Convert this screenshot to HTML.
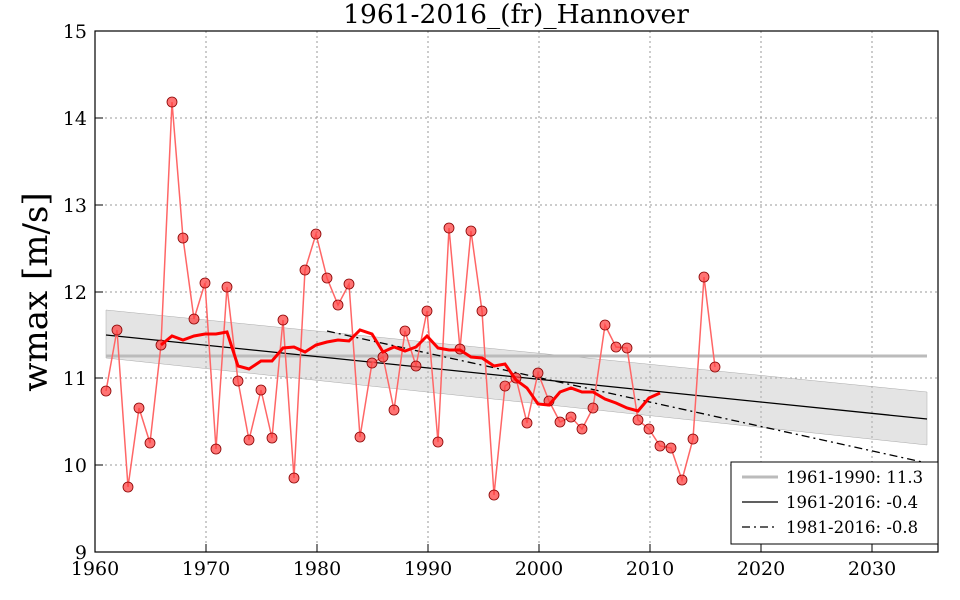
<!DOCTYPE html>
<html><head><meta charset="utf-8"><style>body{margin:0;background:#fff}svg{display:block}text{font-family:"DejaVu Serif","Liberation Serif",serif}</style></head><body>
<svg width="960" height="600" viewBox="0 0 960 600" xmlns="http://www.w3.org/2000/svg">
<rect width="960" height="600" fill="#fff"/>
<g stroke="#999" stroke-dasharray="2,3" stroke-width="1">
<line x1="206" y1="31" x2="206" y2="552"/><line x1="317" y1="31" x2="317" y2="552"/><line x1="428" y1="31" x2="428" y2="552"/><line x1="539" y1="31" x2="539" y2="552"/><line x1="650" y1="31" x2="650" y2="552"/><line x1="761" y1="31" x2="761" y2="552"/><line x1="872" y1="31" x2="872" y2="552"/>
<line x1="95" y1="118" x2="938" y2="118"/><line x1="95" y1="205" x2="938" y2="205"/><line x1="95" y1="292" x2="938" y2="292"/><line x1="95" y1="378" x2="938" y2="378"/><line x1="95" y1="465" x2="938" y2="465"/>
</g>
<polygon points="106,310 927,392 927,445 106,358" fill="#bbb" fill-opacity="0.4" stroke="#aaa" stroke-width="0.5"/>
<line x1="106" y1="356" x2="927" y2="356" stroke="#bbb" stroke-width="3"/>
<line x1="106" y1="335" x2="927" y2="419" stroke="#000" stroke-width="1.3"/>
<line x1="327" y1="331" x2="927" y2="463" stroke="#000" stroke-width="1.3" stroke-dasharray="8,4,2,4"/>
<polyline fill="none" stroke="#f66" stroke-width="1.5" points="106,391 117,330 128,487 139,408 150,443 161,345 172,102 183,238 194,319 205,283 216,449 227,287 238,381 249,440 261,390 272,438 283,320 294,478 305,270 316,234 327,278 338,305 349,284 360,437 372,363 383,357 394,410 405,331 416,366 427,311 438,442 449,228 460,349 471,231 482,311 494,495 505,386 516,378 527,423 538,373 549,401 560,422 571,417 582,429 593,408 605,325 616,347 627,348 638,420 649,429 660,446 671,448 682,480 693,439 704,277 715,367"/>
<g fill="#f44" fill-opacity="0.75" stroke="#800" stroke-width="0.8">
<circle cx="106" cy="391" r="5"/><circle cx="117" cy="330" r="5"/><circle cx="128" cy="487" r="5"/><circle cx="139" cy="408" r="5"/><circle cx="150" cy="443" r="5"/><circle cx="161" cy="345" r="5"/><circle cx="172" cy="102" r="5"/><circle cx="183" cy="238" r="5"/><circle cx="194" cy="319" r="5"/><circle cx="205" cy="283" r="5"/><circle cx="216" cy="449" r="5"/><circle cx="227" cy="287" r="5"/><circle cx="238" cy="381" r="5"/><circle cx="249" cy="440" r="5"/><circle cx="261" cy="390" r="5"/><circle cx="272" cy="438" r="5"/><circle cx="283" cy="320" r="5"/><circle cx="294" cy="478" r="5"/><circle cx="305" cy="270" r="5"/><circle cx="316" cy="234" r="5"/><circle cx="327" cy="278" r="5"/><circle cx="338" cy="305" r="5"/><circle cx="349" cy="284" r="5"/><circle cx="360" cy="437" r="5"/><circle cx="372" cy="363" r="5"/><circle cx="383" cy="357" r="5"/><circle cx="394" cy="410" r="5"/><circle cx="405" cy="331" r="5"/><circle cx="416" cy="366" r="5"/><circle cx="427" cy="311" r="5"/><circle cx="438" cy="442" r="5"/><circle cx="449" cy="228" r="5"/><circle cx="460" cy="349" r="5"/><circle cx="471" cy="231" r="5"/><circle cx="482" cy="311" r="5"/><circle cx="494" cy="495" r="5"/><circle cx="505" cy="386" r="5"/><circle cx="516" cy="378" r="5"/><circle cx="527" cy="423" r="5"/><circle cx="538" cy="373" r="5"/><circle cx="549" cy="401" r="5"/><circle cx="560" cy="422" r="5"/><circle cx="571" cy="417" r="5"/><circle cx="582" cy="429" r="5"/><circle cx="593" cy="408" r="5"/><circle cx="605" cy="325" r="5"/><circle cx="616" cy="347" r="5"/><circle cx="627" cy="348" r="5"/><circle cx="638" cy="420" r="5"/><circle cx="649" cy="429" r="5"/><circle cx="660" cy="446" r="5"/><circle cx="671" cy="448" r="5"/><circle cx="682" cy="480" r="5"/><circle cx="693" cy="439" r="5"/><circle cx="704" cy="277" r="5"/><circle cx="715" cy="367" r="5"/>
</g>
<polyline fill="none" stroke="#f00" stroke-width="3" points="161,345 172,336 183,340 194,336 205,334 216,334 227,332 238,366 249,369 261,361 272,361 283,348 294,347 305,352 316,345 327,342 338,340 349,341 360,330 372,334 383,352 394,347 405,351 416,347 427,336 438,348 449,350 460,350 471,357 482,358 494,366 505,364 516,380 527,388 538,404 549,405 560,392 571,388 582,392 593,392 605,399 616,403 627,408 638,411 649,398 660,393"/>
<rect x="95" y="31" width="843" height="521" fill="none" stroke="#000" stroke-width="1.2"/>
<g stroke="#000"><line x1="206" y1="552" x2="206" y2="544"/><line x1="317" y1="552" x2="317" y2="544"/><line x1="428" y1="552" x2="428" y2="544"/><line x1="539" y1="552" x2="539" y2="544"/><line x1="650" y1="552" x2="650" y2="544"/><line x1="761" y1="552" x2="761" y2="544"/><line x1="872" y1="552" x2="872" y2="544"/>
<line x1="95" y1="118" x2="103" y2="118"/><line x1="95" y1="205" x2="103" y2="205"/><line x1="95" y1="292" x2="103" y2="292"/><line x1="95" y1="378" x2="103" y2="378"/><line x1="95" y1="465" x2="103" y2="465"/></g>
<g font-size="19" text-anchor="middle">
<text x="95" y="575">1960</text><text x="206" y="575">1970</text><text x="317" y="575">1980</text><text x="428" y="575">1990</text><text x="539" y="575">2000</text><text x="650" y="575">2010</text><text x="761" y="575">2020</text><text x="872" y="575">2030</text>
</g>
<g font-size="19" text-anchor="end">
<text x="87" y="38">15</text><text x="87" y="125">14</text><text x="87" y="212">13</text><text x="87" y="299">12</text><text x="87" y="385">11</text><text x="87" y="472">10</text><text x="87" y="559">9</text>
</g>
<text x="516" y="23" font-size="26.5" text-anchor="middle">1961-2016_(fr)_Hannover</text>
<text transform="translate(47,292) rotate(-90)" font-size="34" text-anchor="middle">wmax [m/s]</text>
<rect x="731" y="462" width="207" height="82" fill="#fff" stroke="#000"/>
<line x1="742" y1="477" x2="778" y2="477" stroke="#bbb" stroke-width="3"/>
<line x1="742" y1="502" x2="778" y2="502" stroke="#000" stroke-width="1.3"/>
<line x1="742" y1="527" x2="778" y2="527" stroke="#000" stroke-width="1.3" stroke-dasharray="8,4,2,4"/>
<g font-size="16.5"><text x="786" y="483">1961-1990: 11.3</text><text x="786" y="508">1961-2016: -0.4</text><text x="786" y="533">1981-2016: -0.8</text></g>
</svg>
</body></html>
